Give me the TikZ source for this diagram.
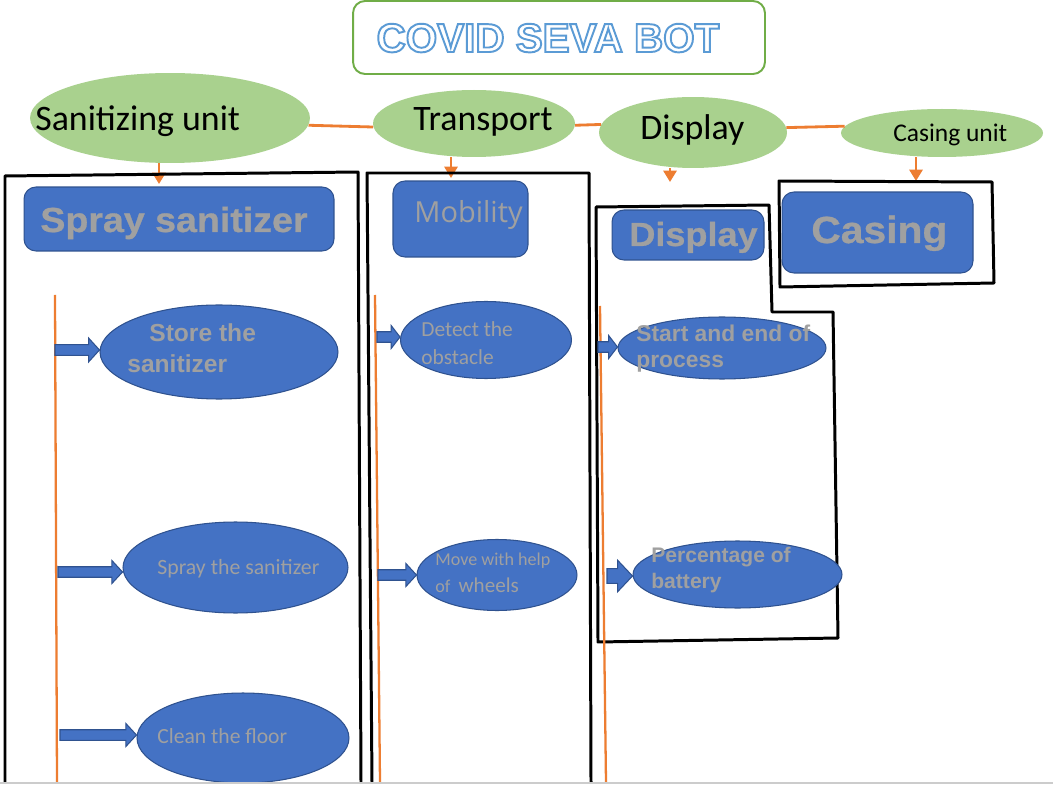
\documentclass[tikz,border=0pt]{standalone}
\usepackage{fontspec}
\setmainfont{Carlito}
\newfontfamily\arialfont{Liberation Sans}
\newfontfamily\blackfont{Liberation Sans}[BoldFeatures={FakeBold=0.8,FakeStretch=1.08}]
\newfontfamily\segoefont{Open Sans}
\usetikzlibrary{shapes.geometric,arrows.meta,calc}
\definecolor{covgreen}{HTML}{A9D18E}
\definecolor{covline}{HTML}{70AD47}
\definecolor{covorange}{HTML}{ED7D31}
\definecolor{covblue}{HTML}{4472C4}
\definecolor{covdark}{HTML}{2F528F}
\definecolor{covgray}{HTML}{A0A0A0}
\definecolor{covtitle}{HTML}{5B9BD5}
\newcommand\fsz[1]{\fontsize{#1}{#1}\selectfont}
\newcommand\outlined[1]{\color{white}\special{pdf:code 2 Tr 1.1 w 0.357 0.608 0.835 RG}#1\special{pdf:code 0 Tr}}

\begin{document}
\begin{tikzpicture}[x=0.02cm, y=-0.02cm,
  topic/.style={ellipse, fill=covgreen, inner sep=0pt},
  task/.style={ellipse, draw=covdark, fill=covblue, line width=0.6pt, inner sep=0pt},
  head/.style={rectangle, rounded corners=6.8pt, draw=covdark, fill=covblue, line width=0.6pt, inner sep=0pt},
  txt/.style={inner sep=0pt, anchor=base west},
  greytxt/.style={txt, text=covgray},
  boldtxt/.style={txt, text=covgray, font=\arialfont\bfseries},
  headtxt/.style={txt, text=covgray, font=\blackfont\bfseries},
  link/.style={draw=covorange, line width=1.6pt},
  flow/.style={draw=covorange, line width=1.5pt, -{Triangle[length=6.5pt,width=7.5pt]}},
  frame/.style={draw=black, line width=1.7pt, line join=round},
  rail/.style={draw=covorange, line width=1.3pt},
  blockarrow/.style n args={3}{draw=covdark, fill=covblue, line width=0.6pt,
    to path={let \p1=(\tikztostart), \p2=(\tikztotarget) in
      (\x1,\y1+#1) -- (\x2-#3,\y1+#1) -- (\x2-#3,\y1+#2) -- (\x2,\y1)
      -- (\x2-#3,\y1-#2) -- (\x2-#3,\y1-#1) -- (\x1,\y1-#1) -- cycle}}]
\path[use as bounding box, fill=white] (0,0) rectangle (1053,786);

% title
\node[rectangle, rounded corners=6.8pt, draw=covline, line width=1.1pt, minimum width=8.24cm, minimum height=1.46cm] (title) at (559,37.5) {};
\node[txt, anchor=base] (titletxt) at (548,52) {\arialfont\bfseries\fsz{23}\outlined{COVID SEVA BOT}};

% units
\node[topic, minimum width=5.6cm, minimum height=1.8cm] (san) at (170,118) {};
\node[topic, minimum width=4.04cm, minimum height=1.34cm] (trans) at (474,123.5) {};
\node[topic, minimum width=3.76cm, minimum height=1.42cm] (disp) at (693,132.5) {};
\node[topic, minimum width=4.04cm, minimum height=0.96cm] (casu) at (942,133) {};
\node[txt] (santxt) at (35,131) {\fsz{20.4}Sanitizing unit};
\node[txt] (transtxt) at (413,131) {\fsz{20.4}Transport};
\node[txt] (disptxt) at (640,140) {\fsz{20.4}Display};
\node[txt] (casutxt) at (893,142) {\fsz{14.5}Casing unit};

\draw[link] (san.-3.5) -- (trans.182);
\draw[link] (trans.-1) -- (disp.175.4);
\draw[link] (disp.3.5) -- (casu.176.5);

\coordinate (santip) at (159,184);
\coordinate (transtip) at (451,178);
\coordinate (disptip) at (670,182);
\coordinate (casutip) at (916,181);
\draw[flow] (san.south -| santip) -- (santip);
\draw[flow] (trans.south -| transtip) -- (transtip);
\draw[flow] (disp.south -| disptip) -- (disptip);
\draw[flow] (casu.south -| casutip) -- (casutip);

% frames
\draw[frame] (5,783) -- (5,176) -- (358,172) -- (361,783);
\draw[frame] (372,783) -- (367,173) -- (589,173) -- (591,783);
\draw[frame] (598,642) -- (596,207) -- (769,205) -- (772,312) -- (833,312) -- (838,638) -- cycle;
\draw[frame] (779,181) -- (992,182) -- (994,283) -- (780,287) -- cycle;

% headings
\node[head, minimum width=6.2cm, minimum height=1.28cm] (spraybox) at (179,219) {};
\node[head, minimum width=2.7cm, minimum height=1.52cm] (mobbox) at (460.5,219) {};
\node[head, minimum width=3.04cm, minimum height=1cm] (dispbox) at (688,235) {};
\node[head, minimum width=3.82cm, minimum height=1.62cm] (casbox) at (877.5,232.5) {};
\node[headtxt] (spraytxt) at (40,232) {\fsz{19.8}Spray sanitizer};
\node[greytxt, font=\segoefont] (mobtxt) at (414,223) {\fsz{16.5}Mobility};
\node[headtxt] (dispboxtxt) at (629,246) {\fsz{19}Display};
\node[headtxt] (castxt) at (811,243) {\fsz{21.5}Casing};

% rails
\draw[rail] (55,295) -- (57,783);
\draw[rail] (375,295) -- (380,783);
\draw[rail] (600,306) -- (606,783);

% tasks
\node[task, minimum width=4.76cm, minimum height=1.88cm] (store) at (219,352) {};
\node[task, minimum width=4.5cm, minimum height=1.82cm] (spray) at (235.5,567.5) {};
\node[task, minimum width=4.24cm, minimum height=1.8cm] (clean) at (243,738) {};
\node[task, minimum width=3.42cm, minimum height=1.54cm] (detect) at (486,340) {};
\node[task, minimum width=3.2cm, minimum height=1.42cm] (move) at (497,575) {};
\node[task, minimum width=4.16cm, minimum height=1.24cm] (start) at (722,348) {};
\node[task, minimum width=4.18cm, minimum height=1.34cm] (perc) at (737.5,574.5) {};

\node[boldtxt] (storetxa) at (149,342) {\fsz{14}Store the};
\node[boldtxt] (storetxb) at (127,373) {\fsz{14}sanitizer};
\node[greytxt] (spraytx) at (157,574) {\fsz{12.4}Spray the sanitizer};
\node[greytxt] (cleantx) at (157,743) {\fsz{12.3}Clean the floor};
\node[greytxt] (detecttxa) at (421,337) {\fsz{12.2}Detect the};
\node[greytxt] (detecttxb) at (421,365) {\fsz{12.2}obstacle};
\node[greytxt] (movetxa) at (435,565) {\fsz{10.3}Move with help};
\node[greytxt] (movetxb) at (435,592) {\fsz{10.3}of\ \ \fsz{12}wheels};
\node[boldtxt] (starttxa) at (636,342) {\fsz{13}Start and end of};
\node[boldtxt] (starttxb) at (636,368) {\fsz{13}process};
\node[boldtxt] (perctxa) at (651,562) {\fsz{12}Percentage of};
\node[boldtxt] (perctxb) at (651,588) {\fsz{12}battery};

% block arrows
\coordinate (r1) at (55,350);
\coordinate (r2) at (58,572);
\coordinate (r3) at (60,735);
\coordinate (r4) at (377,337);
\coordinate (r5) at (378,575);
\coordinate (r6) at (598,347);
\coordinate (r7) at (607,576);
\draw[blockarrow={3.1pt}{6.8pt}{6.2pt}] (r1) to (store.west);
\draw[blockarrow={3pt}{6.5pt}{6pt}] (r2) to (spray.west);
\draw[blockarrow={3pt}{6.5pt}{6pt}] (r3) to (clean.west);
\draw[blockarrow={3pt}{6.5pt}{5pt}] (r4) to (detect.west);
\draw[blockarrow={3pt}{6.5pt}{6pt}] (r5) to (move.west);
\draw[blockarrow={3pt}{6.5pt}{5pt}] (r6) to (start.west);
\draw[blockarrow={4.2pt}{9pt}{8.5pt}] (r7) to (perc.west);

\draw[gray!40, line width=0.6pt] (0,783) -- (1053,783);
\end{tikzpicture}
\end{document}
